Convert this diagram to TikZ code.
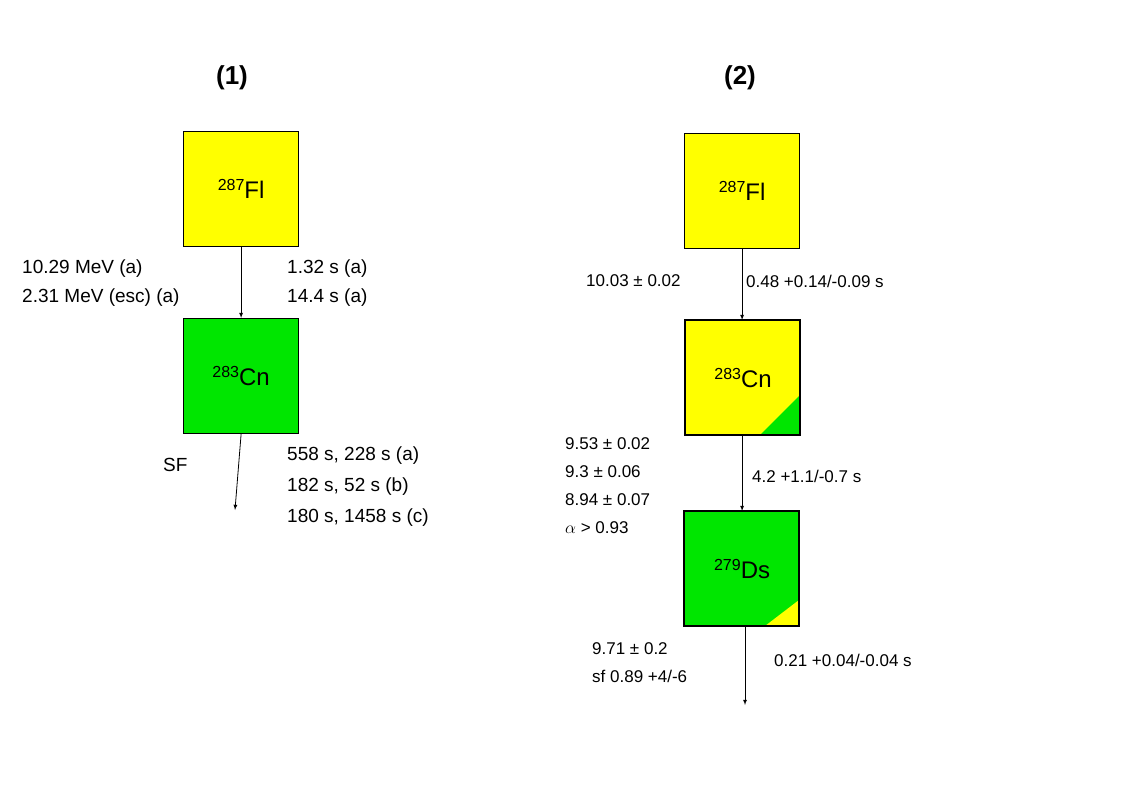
\documentclass[tikz,border=0pt]{standalone}
\usepackage{fontspec}
\setmainfont{Liberation Sans}
\newcommand{\isot}[2]{\raisebox{8pt}{\fontsize{16}{16}\selectfont #1}#2}
\begin{document}
\begin{tikzpicture}[x=1pt,y=-1pt,
  box/.style={draw,line width=1.2pt,minimum size=115pt,inner sep=0pt,anchor=north west},
  lbl/.style={font=\fontsize{19}{23}\selectfont,align=left,inner sep=0pt},
  sm/.style={font=\fontsize{17}{28}\selectfont,align=left,inner sep=0pt},
  nm/.style={font=\fontsize{24}{28}\selectfont,inner sep=0pt},
  ttl/.style={font=\bfseries\fontsize{26}{30}\selectfont},
  arr/.style={-latex,line width=0.8pt}]
\useasboundingbox (0,0) rectangle (1136,795);
\definecolor{yel}{RGB}{255,255,0}
\definecolor{grn}{RGB}{0,230,0}
\node[ttl] (t1) at (232,78) {(1)};
\node[ttl] (t2) at (740,78) {(2)};
% chain 1
\node[box,fill=yel] (a1) at (183,131) {};
\node[nm] at (a1.center) {\isot{287}{Fl}};
\node[box,fill=grn] (a2) at (183,318) {};
\node[nm] at (a2.center) {\isot{283}{Cn}};
\draw[arr] (a1.south) -- (a2.north);
\coordinate (e1) at (235,510);
\draw[arr] (a2.south) -- (e1);
\node[lbl,anchor=west] at (22,283) {10.29 MeV (a)\\[6pt]2.31 MeV (esc) (a)};
\node[lbl,anchor=west] at (287,283) {1.32 s (a)\\[6pt]14.4 s (a)};
\node[lbl,anchor=west] at (163,465) {SF};
\node[lbl,anchor=west] at (287,487) {558 s, 228 s (a)\\[8pt]182 s, 52 s (b)\\[8pt]180 s, 1458 s (c)};
% chain 2
\node[box,fill=yel] (b1) at (684,133) {};
\node[nm] at (b1.center) {\isot{287}{Fl}};
\node[box,fill=yel] (b2) at (685,320) {};
\fill[grn] (800,395) -- (800,435) -- (760,435) -- cycle;
\draw[line width=1.2pt] (685,320) rectangle (800,435);
\node[nm] at (b2.center) {\isot{283}{Cn}};
\node[box,fill=grn] (b3) at (684,511) {};
\fill[yel] (799,600) -- (799,626) -- (765,626) -- cycle;
\draw[line width=1.2pt] (684,511) rectangle (799,626);
\node[nm] at (b3.center) {\isot{279}{Ds}};
\draw[arr] (b1.south) -- (b2.north-|b1.south);
\draw[arr] (b2.south-|b1.south) -- (b3.north-|b1.south);
\coordinate (e2) at (745,705);
\draw[arr] (b3.south-|e2) -- (e2);
\node[sm,anchor=west] at (586,281) {10.03 ± 0.02};
\node[sm,anchor=west] at (746,281) {0.48 +0.14/-0.09 s};
\node[sm,anchor=north west] at (565,437) {9.53 ± 0.02\\9.3 ± 0.06\\8.94 ± 0.07\\$\alpha$ > 0.93};
\node[sm,anchor=west] at (752,476) {4.2 +1.1/-0.7 s};
\node[sm,anchor=north west] at (592,642) {9.71 ± 0.2\\sf 0.89 +4/-6};
\node[sm,anchor=west] at (774,660) {0.21 +0.04/-0.04 s};
\end{tikzpicture}
\end{document}
